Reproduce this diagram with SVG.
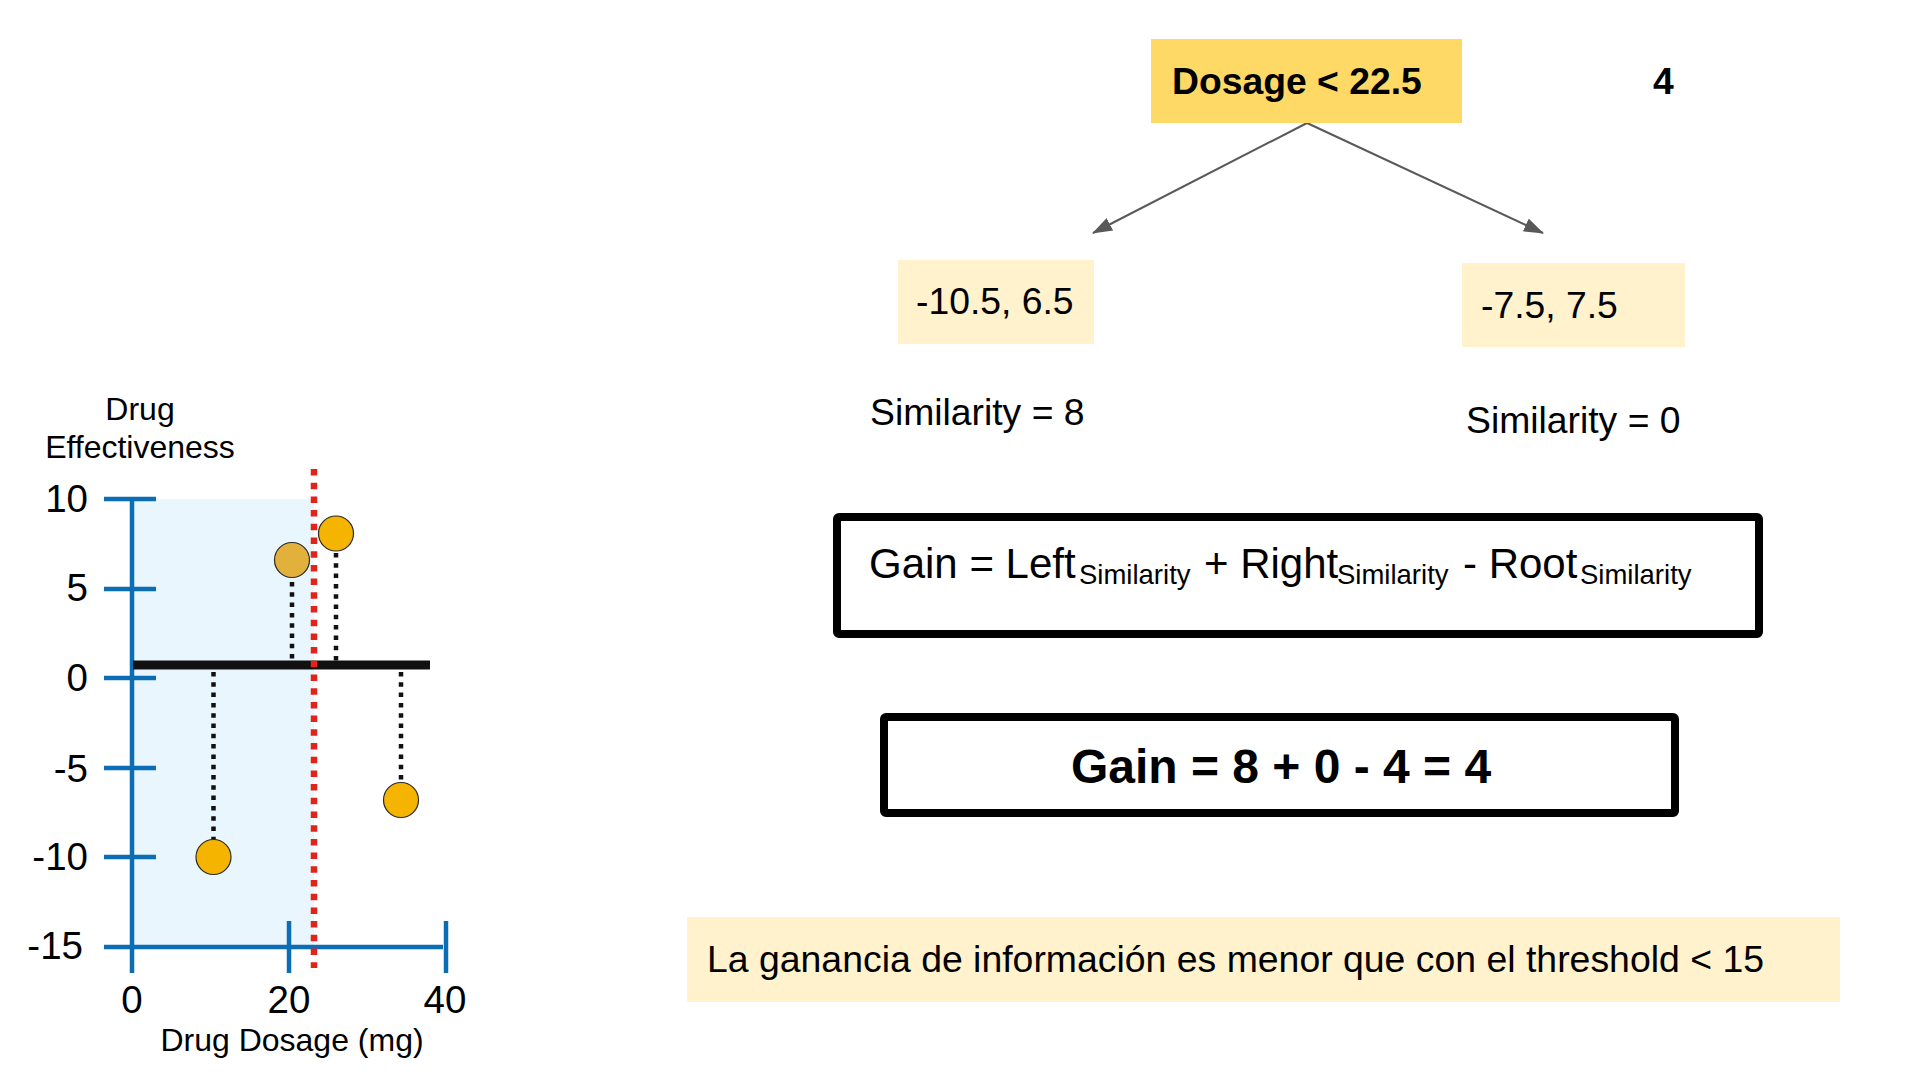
<svg xmlns="http://www.w3.org/2000/svg" width="1920" height="1080" viewBox="0 0 1920 1080">
<style>
text{font-family:"Liberation Sans",Arial,Helvetica,sans-serif;fill:#000}
.ax{stroke:#0B6DB5;stroke-width:4.5;fill:none}
.stem{stroke:#111;stroke-width:4.5;stroke-dasharray:4.5 5.8;fill:none}
.pt{fill:#F5B400;stroke:#2a2a2a;stroke-width:1.2}
.tick{font-size:38.5px;text-anchor:end}
.xl{font-size:38.5px;text-anchor:middle}
.lbl{font-size:32px;text-anchor:middle}
.leaf{fill:#FFF2CC}
.t37{font-size:37.3px}
.box{fill:none;stroke:#000;stroke-width:8}
.conn{stroke:#595959;stroke-width:2;fill:none;marker-end:url(#ah)}
</style>
<defs>
<marker id="ah" viewBox="0 0 20 14" refX="19" refY="7" markerWidth="20" markerHeight="14" markerUnits="userSpaceOnUse" orient="auto">
<path d="M0,0 L20,7 L0,14 Z" fill="#595959"/>
</marker>
</defs>
<rect width="1920" height="1080" fill="#fff"/>

<!-- Chart -->
<g id="chart">
<rect x="132" y="499" width="182" height="448" fill="#EAF6FD"/>
<line class="ax" x1="132" y1="499" x2="132" y2="973"/>
<line class="ax" x1="104" y1="947" x2="443" y2="947"/>
<line class="ax" x1="104" y1="499" x2="156" y2="499"/>
<line class="ax" x1="104" y1="589" x2="156" y2="589"/>
<line class="ax" x1="104" y1="678" x2="156" y2="678"/>
<line class="ax" x1="104" y1="768" x2="156" y2="768"/>
<line class="ax" x1="104" y1="857" x2="156" y2="857"/>
<line class="ax" x1="289" y1="921" x2="289" y2="973"/>
<line class="ax" x1="446" y1="921" x2="446" y2="973"/>
<text class="tick" x="88" y="512">10</text>
<text class="tick" x="88" y="601">5</text>
<text class="tick" x="88" y="691">0</text>
<text class="tick" x="88" y="782">-5</text>
<text class="tick" x="88" y="870">-10</text>
<text class="tick" x="83" y="959">-15</text>
<text class="xl" x="132" y="1013">0</text>
<text class="xl" x="289" y="1013">20</text>
<text class="xl" x="445" y="1013">40</text>
<text class="lbl" x="292" y="1051">Drug Dosage (mg)</text>
<text class="lbl" x="140" y="420">Drug</text>
<text class="lbl" x="140" y="458">Effectiveness</text>
<line x1="133" y1="665" x2="430" y2="665" stroke="#111" stroke-width="9"/>
<line class="stem" x1="213.5" y1="672" x2="213.5" y2="840"/>
<line class="stem" x1="292" y1="582" x2="292" y2="662"/>
<line class="stem" x1="336" y1="553" x2="336" y2="662"/>
<line class="stem" x1="401" y1="672" x2="401" y2="783"/>
<line x1="314" y1="469" x2="314" y2="968" stroke="#E2231A" stroke-width="6.5" stroke-dasharray="6.5 7.2"/>
<circle class="pt" cx="292" cy="560" r="17.5" style="fill:#E1B13B"/>
<circle class="pt" cx="336" cy="533.5" r="17.5"/>
<circle class="pt" cx="213.5" cy="857" r="17.5"/>
<circle class="pt" cx="401" cy="800" r="17.5"/>
</g>

<!-- Connectors -->
<g id="connectors">
<line class="conn" x1="1307" y1="123" x2="1093" y2="233"/>
<line class="conn" x1="1307" y1="123" x2="1543" y2="233"/>
</g>

<!-- Tree nodes -->
<g id="root">
<rect x="1151" y="39" width="311" height="84" fill="#FFD966"/>
<text x="1172" y="94" style="font-size:37.3px;font-weight:bold">Dosage &lt; 22.5</text>
</g>
<g id="root-gain">
<text x="1653" y="94" style="font-size:37.3px;font-weight:bold">4</text>
</g>
<g id="left-leaf">
<rect class="leaf" x="898" y="260" width="196" height="84"/>
<text class="t37" x="916" y="314">-10.5, 6.5</text>
</g>
<g id="right-leaf">
<rect class="leaf" x="1462" y="263" width="223" height="84"/>
<text class="t37" x="1481" y="318">-7.5, 7.5</text>
</g>
<g id="left-similarity">
<text class="t37" x="870" y="425">Similarity = 8</text>
</g>
<g id="right-similarity">
<text class="t37" x="1466" y="433">Similarity = 0</text>
</g>

<!-- Formula -->
<g id="formula">
<rect class="box" x="837" y="517" width="922" height="117" rx="2"/>
<text style="font-size:42px" y="578"><tspan x="869">Gain = Left</tspan><tspan x="1079" y="584" style="font-size:27.5px">Similarity</tspan><tspan x="1204" y="578">+ Right</tspan><tspan x="1337" y="584" style="font-size:27.5px">Similarity</tspan><tspan x="1463" y="578">- Root</tspan><tspan x="1580" y="584" style="font-size:27.5px">Similarity</tspan></text>
</g>

<g id="result">
<rect class="box" x="884" y="717" width="791" height="96" rx="2"/>
<text x="1281" y="783" style="font-size:48px;font-weight:bold;text-anchor:middle">Gain = 8 + 0 - 4 = 4</text>
</g>

<g id="note">
<rect x="687" y="917" width="1153" height="85" fill="#FFF2CC"/>
<text x="707" y="972" style="font-size:37.4px">La ganancia de información es menor que con el threshold &lt; 15</text>
</g>
</svg>
